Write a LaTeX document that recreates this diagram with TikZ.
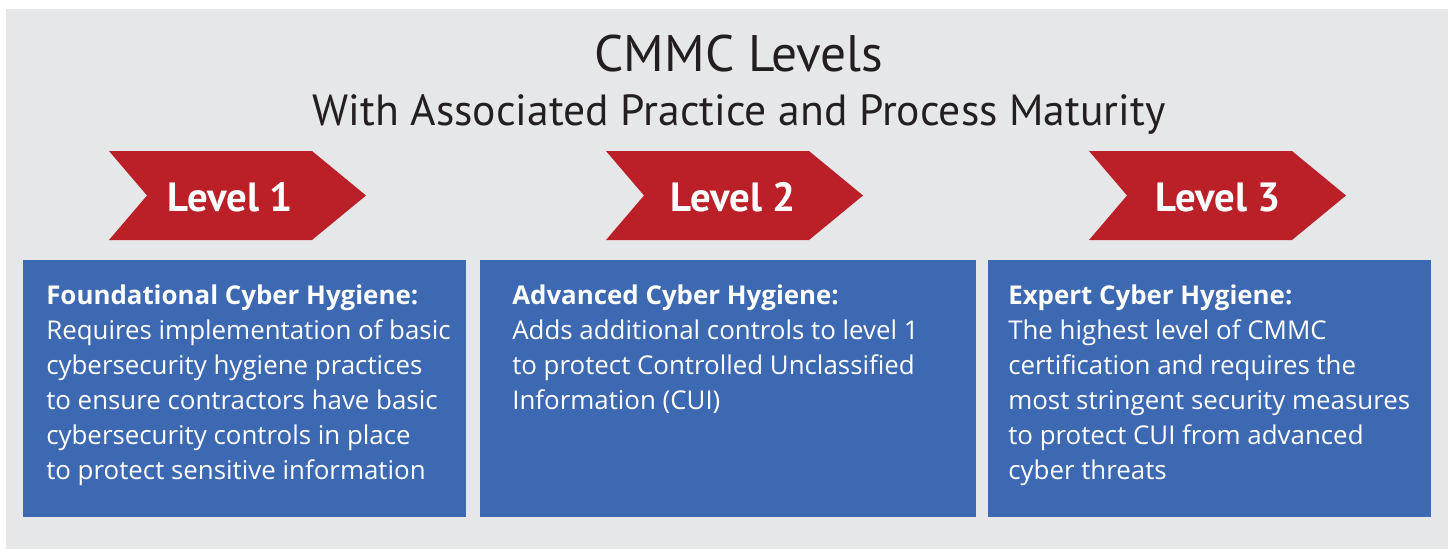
\documentclass[tikz,border=0pt]{standalone}
\usepackage{fontspec}
\setmainfont{PT Sans}
\newfontfamily\bodyfont{Open Sans}
\usetikzlibrary{positioning}
\definecolor{levelred}{RGB}{187,31,39}
\definecolor{boxblue}{RGB}{61,105,178}
\definecolor{panelgray}{RGB}{230,231,233}
\definecolor{titleink}{RGB}{35,31,32}

\begin{document}
\begin{tikzpicture}[
  x=0.025cm, y=0.025cm,
  chevron/.style={fill=levelred, draw=none},
  levellabel/.style={text=white, inner sep=0pt, font=\bfseries\fontsize{29}{34}\selectfont},
  infobox/.style={rectangle, fill=boxblue, inner sep=0pt, anchor=north west, minimum height=6.425cm},
  infotext/.style={text=white, align=left, anchor=north west, inner sep=0pt, font=\bodyfont\fontsize{18.4}{24.9}\selectfont},
  heading/.style={text=titleink, inner sep=0pt, anchor=base}
]

\useasboundingbox (0,0) rectangle (1448,-549);
\fill[panelgray] (6,-9) rectangle (1448,-549);

% --- Titel ---
\node[heading, font=\fontsize{36.5}{40}\selectfont] (title) at (739,-71) {CMMC Levels};
\node[heading, font=\fontsize{31}{36}\selectfont] (subtitle) at (739,-125) {With Associated Practice and Process Maturity};

% --- Level-Pfeile ---
\foreach \lx/\cx/\lvl in {109/230/1, 606/733/2, 1089/1218/3} {
  \fill[chevron] (\lx,-151) -- (\lx+203,-151) -- (\lx+257,-195.5) -- (\lx+203,-240)
    -- (\lx,-240) -- (\lx+38,-195.5) -- cycle;
  \node[levellabel] (level\lvl) at (\cx,-197.5) {Level \lvl};
}

% --- Boxen ---
\node[infobox, minimum width=11.075cm] (box1) at (23,-260) {};
\node[infobox, minimum width=12.4cm]   (box2) at (480,-260) {};
\node[infobox, minimum width=11.075cm] (box3) at (988,-260) {};

\node[infotext] (text1) at (46,-284.5) {\textbf{Foundational Cyber Hygiene:} \\ Requires implementation of basic \\ cybersecurity hygiene practices \\ to ensure contractors have basic \\ cybersecurity controls in place \\ to protect sensitive information};
\node[infotext] (text2) at (512,-284.5) {\textbf{Advanced Cyber Hygiene:} \\ Adds additional controls to level 1 \\ to protect Controlled Unclassified \\ Information (CUI)};
\node[infotext] (text3) at (1008,-284.5) {\textbf{Expert Cyber Hygiene:} \\ The highest level of CMMC \\ certification and requires the \\ most stringent security measures \\ to protect CUI from advanced \\ cyber threats};
\end{tikzpicture}
\end{document}
